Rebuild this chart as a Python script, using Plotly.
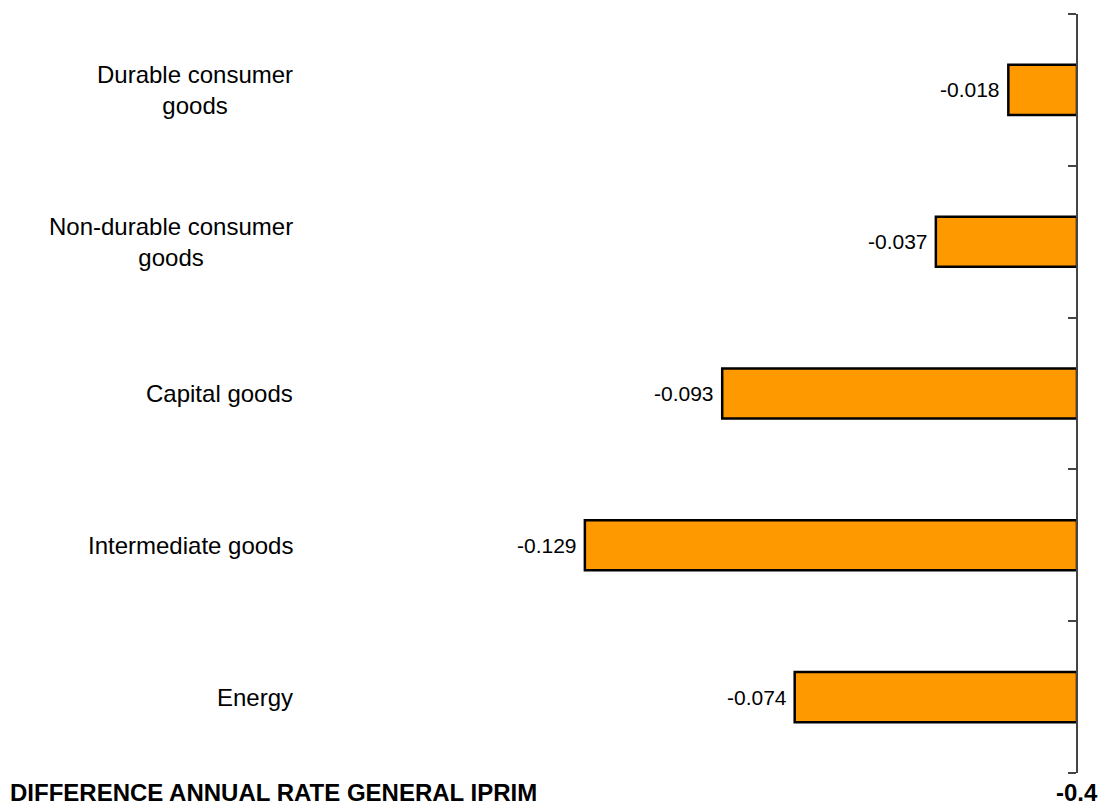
import plotly.graph_objects as go

categories = ["Durable consumer<br>goods", "Non-durable consumer<br>goods", "Capital goods",
              "Intermediate goods", "Energy"]
values = [-0.018, -0.037, -0.093, -0.129, -0.074]
value_labels = ["-0.018", "-0.037", "-0.093", "-0.129", "-0.074"]
x_range = [-0.2, 0]
footer_left = "DIFFERENCE ANNUAL RATE GENERAL IPRIM"
footer_right = "-0.4"

FONT = "Arial, Liberation Sans, Helvetica, sans-serif"
W, H = 1100, 801
ML, MR, MT, MB = 314, 23, 14, 28
PW = W - ML - MR

positions = list(range(len(categories)))
boundaries = [p - 0.5 for p in positions] + [positions[-1] + 0.5]

fig = go.Figure()
fig.add_trace(go.Bar(
    y=positions, x=values, orientation="h",
    marker=dict(color="#FF9900", line=dict(color="#000000", width=2.5)),
    hoverinfo="skip",
))

ann = []
for p, c, v, t in zip(positions, categories, values, value_labels):
    ann.append(dict(x=v, y=p, xref="x", yref="y", text=t, showarrow=False,
                    xanchor="right", yanchor="middle", xshift=-6,
                    font=dict(family=FONT, size=21, color="#000000")))
    ann.append(dict(x=(295 - ML) / PW, y=p, xref="paper", yref="y", text=c,
                    showarrow=False, xanchor="right", yanchor="middle", align="center",
                    font=dict(family=FONT, size=24, color="#000000")))

ann.append(dict(x=(8 - ML) / PW, y=0, xref="paper", yref="paper", text="<b>" + footer_left + "</b>",
                showarrow=False, xanchor="left", yanchor="top", yshift=-4,
                font=dict(family=FONT, size=24, color="#000000")))
ann.append(dict(x=1, y=0, xref="paper", yref="paper", text="<b>" + footer_right + "</b>",
                showarrow=False, xanchor="center", yanchor="top", yshift=-4,
                font=dict(family=FONT, size=24, color="#000000")))

fig.update_layout(
    width=W, height=H,
    margin=dict(l=ML, r=MR, t=MT, b=MB, pad=0),
    paper_bgcolor="white", plot_bgcolor="white",
    showlegend=False,
    bargap=0.67,
    font=dict(family=FONT, color="#000000"),
    xaxis=dict(range=x_range, showgrid=False, zeroline=False, showline=False,
               showticklabels=False, ticks="", fixedrange=True),
    yaxis=dict(side="left", anchor="free", position=1,
               range=[boundaries[-1], boundaries[0]], showgrid=False,
               zeroline=False, showline=True, linecolor="#444444", linewidth=1.5,
               tickmode="array", tickvals=boundaries,
               ticks="outside", ticklen=8, tickwidth=1.5,
               tickcolor="#444444", showticklabels=False, fixedrange=True),
    annotations=ann,
)

fig.write_html("out.html")
